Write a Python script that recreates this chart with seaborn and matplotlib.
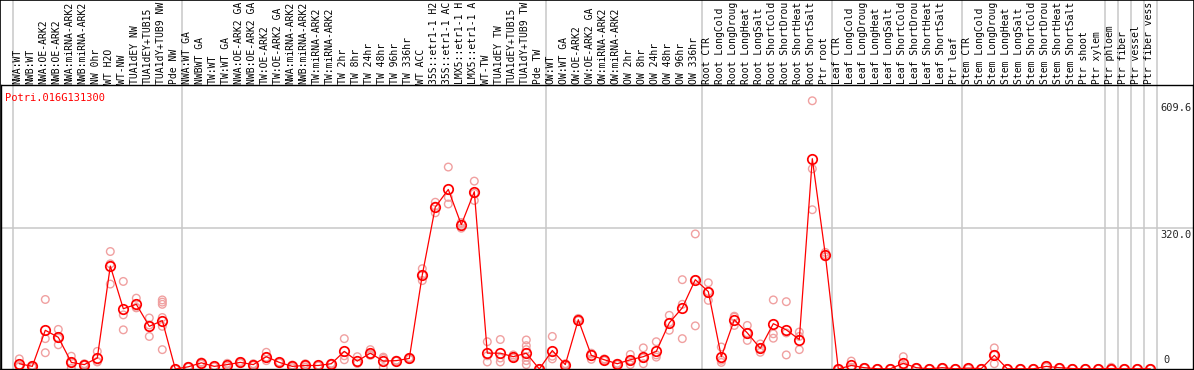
import pandas as pd
import seaborn as sns
import matplotlib.pyplot as plt
import matplotlib.transforms as mtransforms
from matplotlib.patches import Rectangle

gene_id = "Potri.016G131300"

# sample names as they show in the label strip (long ones are cut short there)
samples = [
    "NWA:WT", "NWB:WT", "NWA:OE-ARK2", "NWB:OE-ARK2", "NWA:miRNA-ARK2", "NWB:miRNA-ARK2",
    "NW 0hr", "WT H2O", "WT-NW", "TUA1dEY NW", "TUA1dEY+TUB15", "TUA1dY+TUB9 NW", "Pde NW",
    "NWA:WT GA", "NWBWT GA", "TW:WT", "TW:WT GA", "NWA:OE-ARK2 GA", "NWB:OE-ARK2 GA",
    "TW:OE-ARK2", "TW:OE-ARK2 GA", "NWA:miRNA-ARK2", "NWB:miRNA-ARK2", "TW:miRNA-ARK2",
    "TW:miRNA-ARK2", "TW 2hr", "TW 8hr", "TW 24hr", "TW 48hr", "TW 96hr", "TW 336hr",
    "WT ACC", "35S::etr1-1 H2", "35S::etr1-1 AC", "LMX5::etr1-1 H", "LMX5::etr1-1 A",
    "WT-TW", "TUA1dEY TW", "TUA1dEY+TUB15", "TUA1dY+TUB9 TW", "Pde TW",
    "OW:WT", "OW:WT GA", "OW:OE-ARK2", "OW:OE-ARK2 GA", "OW:miRNA-ARK2", "OW:miRNA-ARK2",
    "OW 2hr", "OW 8hr", "OW 24hr", "OW 48hr", "OW 96hr", "OW 336hr",
    "Root CTR", "Root LongCold", "Root LongDroug", "Root LongHeat", "Root LongSalt",
    "Root ShortCold", "Root ShortDrou", "Root ShortHeat", "Root ShortSalt", "Ptr root",
    "Leaf CTR", "Leaf LongCold", "Leaf LongDroug", "Leaf LongHeat", "Leaf LongSalt",
    "Leaf ShortCold", "Leaf ShortDrou", "Leaf ShortHeat", "Leaf ShortSalt", "Ptr leaf",
    "Stem CTR", "Stem LongCold", "Stem LongDroug", "Stem LongHeat", "Stem LongSalt",
    "Stem ShortCold", "Stem ShortDrou", "Stem ShortHeat", "Stem ShortSalt",
    "Ptr shoot", "Ptr xylem", "Ptr phloem", "Ptr fiber", "Ptr vessel", "Ptr fiber vess",
]

mean_expr = [
    12, 6, 88, 72, 15, 10, 25, 234, 137, 147, 97, 110, 0,
    5, 14, 6, 10, 15, 10, 28, 15, 6, 8, 8, 12, 40, 18, 36, 18, 19, 24,
    214, 368, 408, 328, 403, 36, 36, 28, 36, 0,
    42, 10, 112, 31, 21, 12, 21, 28, 40, 105, 139, 203,
    176, 28, 112, 82, 47, 103, 89, 67, 478, 260,
    0, 8, 3, 0.5, 0.5, 13, 3, 0.5, 3, 0.5,
    2, 1, 31, 0.5, 0.5, 0.5, 6, 3, 1, 0.5, 0.5,
    1, 0.5, 0.5, 0.5,
]

rep_a = [
    23, 8, 158, 90, 29, 12, 40, 267, 199, 161, 116, 157, 0,
    6, 16, 6, 13, 17, 12, 38, 16, 9, 12, 9, 13, 69, 28, 44, 27, 20, 26,
    228, 379, 459, 333, 427, 62, 67, 32, 66, 0,
    74, 12, 115, 36, 23, 13, 33, 48, 62, 122, 203, 307,
    196, 50, 120, 99, 57, 157, 153, 84, 609.6, 265,
    0, 18, 3, 0.5, 0.5, 28, 3, 0.5, 3, 0.5,
    2, 1, 48, 0.5, 0.5, 0.5, 8, 3, 1, 0.5, 0.5,
    4, 0.5, 0.5, 0.5,
]

rep_b = [
    5, 4, 69, 55, 2, 9, 17, 239, 123, 139, 74, 152, 0,
    4, 11, 5, 6, 13, 8, 19, 14, 3, 4, 7, 11, 30, 13, 31, 3, 18, 22,
    201, 355, 390, 320, 383, 16, 16, 25, 53, 0,
    23, 8, 110, 22, 19, 10, 10, 12, 27, 88, 69, 98,
    156, 15, 99, 65, 38, 80, 32, 44, 455, 255,
    0, 3, 2, 0.5, 0.5, 3, 2, 0.5, 2, 0.5,
    1, 1, 12, 0.5, 0.5, 0.5, 4, 2, 1, 0.5, 0.5,
    0, 0.5, 0.5, 0.5,
]

rep_c = [
    8, 6, 37, 70, 15, 9, 16, 193, 89, 140, 100, 147, 0,
    5, 15, 7, 11, 15, 10, 27, 15, 6, 8, 8, 12, 21, 13, 34, 24, 19, 24,
    214, 370, 375, 330, 399, 30, 25, 28, 44, 0,
    29, 10, 112, 34, 21, 12, 20, 25, 32, 106, 147, 203,
    176, 20, 118, 82, 47, 70, 82, 74, 362, 260,
    0, 4, 3, 0.5, 0.5, 8, 3, 0.5, 3, 0.5,
    2, 1, 32, 0.5, 0.5, 0.5, 6, 3, 1, 0.5, 0.5,
    0, 0.5, 0.5, 0.5,
]

# a few samples have more than three replicates
extra_cols = [11, 11, 11, 39, 39, 39]
extra_vals = [117, 97, 44, 27, 19, 10]

# grey separators between sample groups (positions between columns)
group_breaks = [-0.5, 12.5, 40.5, 52.5, 62.5, 72.5, 83.5, 84.5, 85.5, 86.5, 87.5]
y_ticks = [0, 320.0, 609.6]

RED = "#ff0000"
PINK = "#f0a0a0"
GREY = "#c8c8c8"

sns.set_style("white")
plt.rcParams["font.family"] = ["DejaVu Sans Mono"]

n = len(samples)
means = pd.DataFrame({"pos": range(n), "value": mean_expr})
reps = pd.concat([
    pd.DataFrame({"pos": range(n), "value": rep_a}),
    pd.DataFrame({"pos": range(n), "value": rep_b}),
    pd.DataFrame({"pos": range(n), "value": rep_c}),
    pd.DataFrame({"pos": extra_cols, "value": extra_vals}),
], ignore_index=True)

W, H = 1194, 370
fig = plt.figure(figsize=(W / 100, H / 100), dpi=100)
ax = fig.add_axes([1 / W, 1 / H, 1192 / W, 284 / H])

px_per_col = 13.0
x0 = -(19.3 - 1) / px_per_col
ax.set_xlim(x0, x0 + 1192 / px_per_col)
ymax = 284 / 0.44
ax.set_ylim(0, ymax)

# separators run from the bottom up through the label strip
top_ext = 369 / 284
for b in group_breaks:
    ax.axvline(b, ymin=0, ymax=top_ext, color=GREY, lw=1.1, clip_on=False, zorder=1)
ax.axhline(320.0, color=GREY, lw=1.1, zorder=1)

sns.scatterplot(data=reps, x="pos", y="value", ax=ax, marker="o", s=30,
                facecolors="none", edgecolor=PINK, linewidth=1.0, zorder=2, legend=False)
sns.lineplot(data=means, x="pos", y="value", ax=ax, color=RED, lw=0.9, marker="o",
             markersize=6.8, markerfacecolor="none", markeredgecolor=RED,
             markeredgewidth=1.25, zorder=3, legend=False)

ax.set_xticks([])
ax.set_yticks([])
ax.set_xlabel("")
ax.set_ylabel("")
for side in ["left", "right", "top", "bottom"]:
    ax.spines[side].set_color("black")
    ax.spines[side].set_linewidth(1.0)

# sample labels in the strip above the plot
lab_tr = mtransforms.blended_transform_factory(ax.transData, ax.transAxes)
for i, name in enumerate(samples):
    ax.text(i - 0.12, 1 + 1.5 / 284, name, transform=lab_tr, rotation=90,
            ha="center", va="bottom", fontsize=7.0, color="black", clip_on=False)

ax.text(4 / 1192, (368 - 97) / 284, gene_id, transform=ax.transAxes,
        ha="left", va="center", fontsize=7.5, color=RED)

# value labels at the right edge
for v in y_ticks:
    label = "0" if v == 0 else f"{v:.1f}"
    if v == 0:
        ax.annotate(label, (89.0, v), xytext=(-7, 3), textcoords="offset points",
                    ha="center", va="bottom", fontsize=7.5)
    else:
        ax.annotate(label, (89.0, v), xytext=(0, -1.5), textcoords="offset points",
                    ha="center", va="top", fontsize=7.5)

fig.patches.append(Rectangle((0, 0), 1, 1, transform=fig.transFigure, fill=False,
                             edgecolor="black", lw=1.2))

fig.savefig("out.png", dpi=100)
